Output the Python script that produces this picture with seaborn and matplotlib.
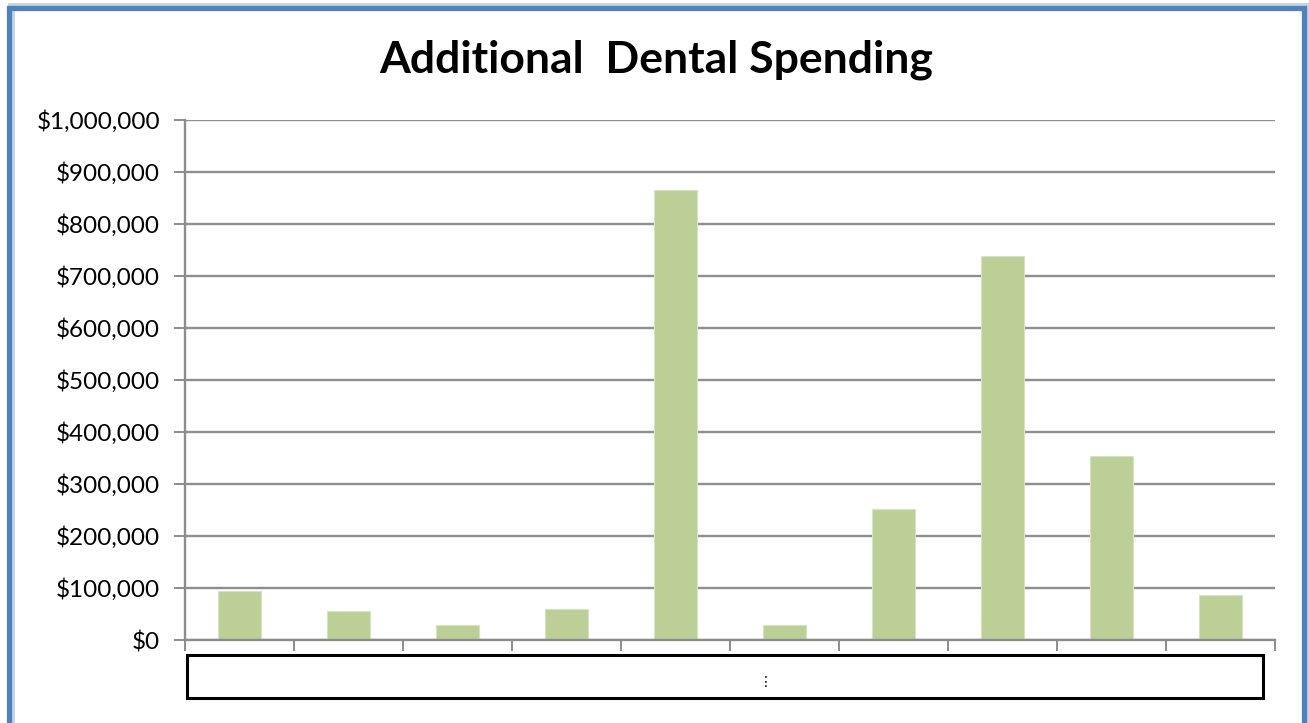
import matplotlib
matplotlib.use("Agg")
import matplotlib.pyplot as plt
import matplotlib.ticker as mticker
from matplotlib.patches import Rectangle
import seaborn as sns
import pandas as pd

categories = ["1", "2", "3", "4", "5", "6", "7", "8", "9", "10"]
spending = [94000, 56000, 29000, 60000, 865000, 29000, 251000, 738000, 353000, 86500]
y_ticks = [0, 100000, 200000, 300000, 400000, 500000, 600000, 700000, 800000, 900000, 1000000]

sns.set_theme(style="white")
plt.rcParams["font.family"] = ["Lato", "DejaVu Sans"]

df = pd.DataFrame({"category": categories, "spending": spending})

W, H = 1309, 723
fig = plt.figure(figsize=(W / 100, H / 100), dpi=100)
fig.patch.set_facecolor("white")

# outer chart frame with shadow
shadow = Rectangle((11 / W, -0.05), (1296) / W, (723 - 10 + 40) / H,
                   transform=fig.transFigure, fill=False, edgecolor="#c8d3e0",
                   linewidth=5, zorder=0)
fig.add_artist(shadow)
frame = Rectangle((9 / W, -0.05), (1295) / W, (723 - 8 + 36) / H,
                  transform=fig.transFigure, fill=False, edgecolor="#4F81BD",
                  linewidth=3.8, zorder=1)
fig.add_artist(frame)

ax = fig.add_axes([185 / W, 83 / H, 1090 / W, 520 / H])
sns.barplot(data=df, x="category", y="spending", color="#BBCF97",
            saturation=1, width=0.4, edgecolor="#d6e3c0", linewidth=0.8, ax=ax)

ax.set_ylim(0, 1000000)
ax.set_xlim(-0.5, len(categories) - 0.5)
ax.set_yticks(y_ticks)
ax.yaxis.set_major_formatter(mticker.FuncFormatter(lambda v, p: f"${v:,.0f}"))
ax.set_xticks([i - 0.5 for i in range(len(categories) + 1)])
ax.set_xticklabels([])
ax.set_xlabel("")
ax.set_ylabel("")

ax.grid(axis="y", color="#8f8f8f", linewidth=1.7)
ax.set_axisbelow(True)
for s in ["top", "right"]:
    ax.spines[s].set_visible(False)
for s in ["left", "bottom"]:
    ax.spines[s].set_color("#8c8c8c")
    ax.spines[s].set_linewidth(1.7)
ax.tick_params(axis="both", which="both", direction="out", length=8, width=1.4,
               color="#8c8c8c", left=True, bottom=True)
ax.tick_params(axis="y", labelsize=17.5, labelcolor="black", pad=10)

# white label box below the axis
box = Rectangle((187 / W, (723 - 698) / H), (1263 - 187) / W, (698 - 655) / H,
                transform=fig.transFigure, facecolor="white", edgecolor="black",
                linewidth=2.2, zorder=5)
fig.add_artist(box)
fig.text(766 / W, (723 - 682) / H, "⋮", ha="center", va="center",
         fontsize=10, color="black", family=["DejaVu Sans"], zorder=6)

fig.text(656 / W, (723 - 60) / H, "Additional  Dental Spending", ha="center",
         va="center", fontsize=32, fontweight="bold", color="black")

fig.savefig("out.png", dpi=100, facecolor="white")
